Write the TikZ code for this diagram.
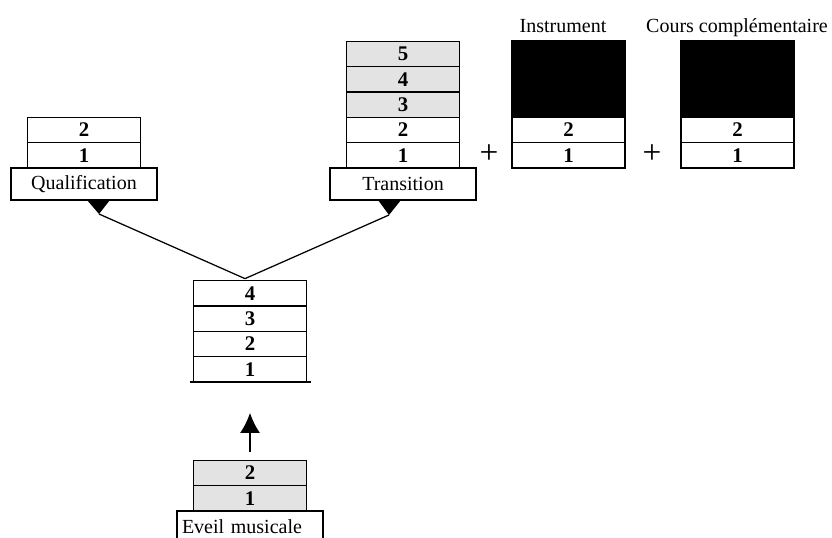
\documentclass[tikz,border=0pt]{standalone}
\usepackage{fontspec}
\setmainfont{Liberation Serif}
\usetikzlibrary{positioning,calc,arrows.meta}

\begin{document}
\begin{tikzpicture}[x=0.6pt, y=-0.6pt, line width=0.75pt,
    every node/.style={font=\fontsize{12}{14}\selectfont},
    row/.style={draw, fill=white, minimum width=67.8pt, minimum height=15.2pt,
        inner sep=0pt, outer sep=0pt, font=\fontsize{12.5}{14}\selectfont\bfseries},
    dotrow/.style={row, fill=gray!22},
    namebox/.style={draw, fill=white, minimum width=87.6pt, minimum height=19.2pt,
        inner sep=0pt, outer sep=0pt},
    blackbox/.style={draw, fill=black, minimum width=67.8pt, minimum height=45.8pt,
        inner sep=0pt, outer sep=0pt},
    plus/.style={font=\fontsize{20}{22}\selectfont}]
    \useasboundingbox (0,0) rectangle (832,537);
    \clip (0,0) rectangle (832,537);

    % left branch
    \node[namebox] (qual) at (84,184) {Qualification};
    \node[row, above=0pt of qual] (qual1) {1};
    \node[row, above=0pt of qual1] (qual2) {2};

    % right branch
    \node[namebox] (trans) at (403,184) {Transition};
    \node[row, above=0pt of trans] (trans1) {1};
    \node[row, above=0pt of trans1] (trans2) {2};
    \node[dotrow, above=0pt of trans2] (trans3) {3};
    \node[dotrow, above=0pt of trans3] (trans4) {4};
    \node[dotrow, above=0pt of trans4] (trans5) {5};

    \node[plus] (plusA) at (489,154) {+};

    \node[row] (inst1) at (568.5,155.3) {1};
    \node[row, above=0pt of inst1] (inst2) {2};
    \node[blackbox, above=0pt of inst2] (instblk) {};
    \node[anchor=base] (insttitle) at (563,33) {Instrument};

    \node[plus] (plusB) at (652,154) {+};

    \node[row] (cours1) at (737.5,155.3) {1};
    \node[row, above=0pt of cours1] (cours2) {2};
    \node[blackbox, above=0pt of cours2] (coursblk) {};
    \node[anchor=base] (courstitle) at (737,33) {Cours complémentaire};

    % middle stack
    \node[row] (mid1) at (250,369.3) {1};
    \node[row, above=0pt of mid1] (mid2) {2};
    \node[row, above=0pt of mid2] (mid3) {3};
    \node[row, above=0pt of mid3] (mid4) {4};
    \draw ([xshift=-2.4pt]mid1.south west) -- ([xshift=2.4pt]mid1.south east);

    % bottom stack
    \node[namebox, minimum height=19.2pt, inner xsep=3pt, text width=81.6pt,
        align=left] (eveil) at (250,527) {Eveil musicale};
    \node[dotrow, above=0pt of eveil] (ev1) {1};
    \node[dotrow, above=0pt of ev1] (ev2) {2};

    \draw[-{Latex[length=12pt,width=12pt]}, shorten <=5pt, shorten >=18.6pt]
        (ev2.north) -- (mid1.south);

    % branches
    \coordinate (apex) at ($(mid4.north)+(-5,-2)$);
    \coordinate (qtip) at ($(qual.south)+(15,14)$);
    \coordinate (ttip) at ($(trans.south)+(-14,15)$);
    \fill ($(qual.south)+(3,0)$) -- ($(qual.south)+(26,0)$) -- (qtip) -- cycle;
    \fill ($(trans.south)+(-25,0)$) -- ($(trans.south)+(-2,0)$) -- (ttip) -- cycle;
    \draw (apex) -- (qtip);
    \draw (apex) -- (ttip);
\end{tikzpicture}
\end{document}
